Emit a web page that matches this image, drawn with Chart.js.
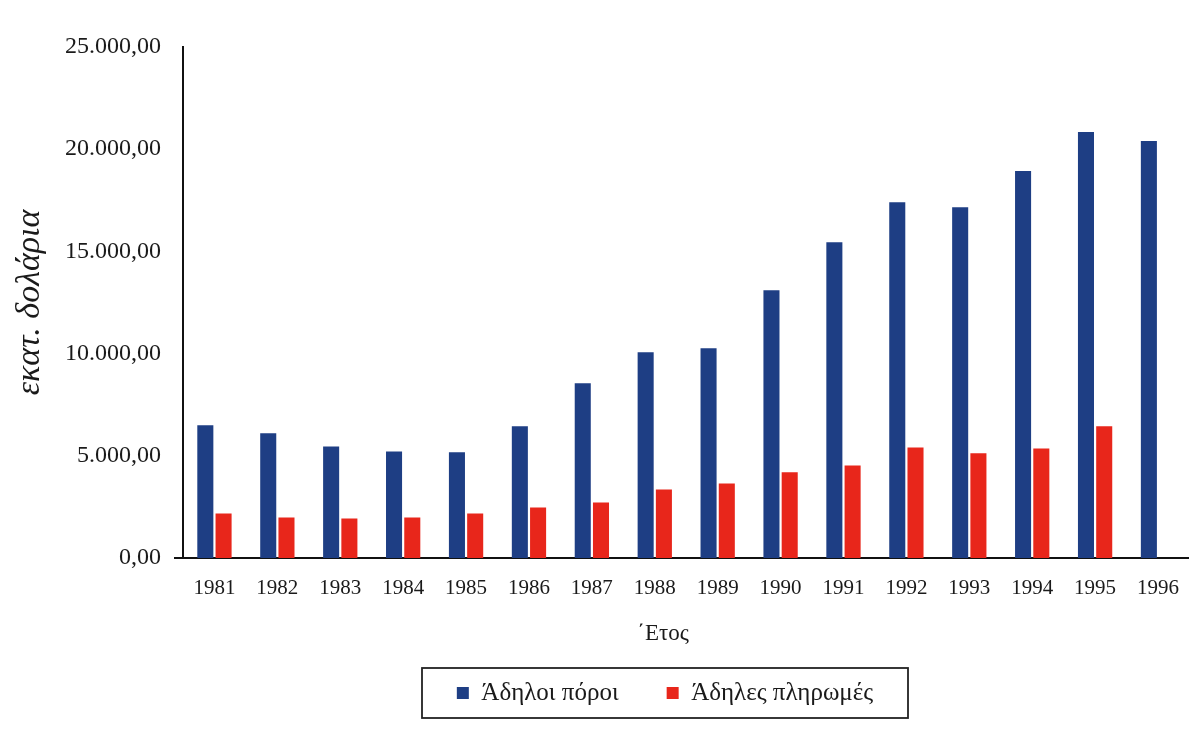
<!DOCTYPE html>
<html><head><meta charset="utf-8">
<script src="https://cdn.jsdelivr.net/npm/chart.js@4.4.1/dist/chart.umd.min.js"></script>
<style>html,body{margin:0;padding:0;background:#ffffff;overflow:hidden}#wrap{width:1197px;height:747px;position:relative}</style>
</head><body><div id="wrap"><canvas id="c"></canvas></div>
<script>
const years = ['1981','1982','1983','1984','1985','1986','1987','1988','1989','1990','1991','1992','1993','1994','1995','1996'];
const adiloiPoroi = [6490,6100,5460,5215,5170,6440,8545,10065,10260,13100,15450,17410,17165,18930,20840,20400];
const adilesPliromes = [2180,1985,1935,1985,2180,2475,2720,3355,3650,4190,4530,5410,5120,5360,6440,null];
const yTicks = [0,5000,10000,15000,20000,25000];
const seriesNames = ['Άδηλοι πόροι','Άδηλες πληρωμές'];
const yTitle = 'εκατ. δολάρια';
const xTitle = '΄Ετος';

function fmt(v){
  return Math.round(v).toString().replace(/\B(?=(\d{3})+(?!\d))/g,'.') + ',00';
}
const FONT = "'Liberation Serif', 'DejaVu Serif', serif";
Chart.defaults.font.family = FONT;
Chart.defaults.color = '#1a1a1a';

const LEG_FONT = 25, LEG_PAD = 48;

const legendBoxPlugin = {
  id: 'legendBox',
  afterLayout(chart){
    const lg = chart.legend;
    if (!lg) return;
    const dx = 665 - (lg.left + lg.right)/2;
    lg.left += dx; lg.right += dx;
    const dy = 693 - (lg.top + LEG_PAD + LEG_FONT/2);
    lg.top += dy; lg.bottom += dy;
    const s = chart.scales.x;
    if (!s._patched){
      const orig = s.drawTitle.bind(s);
      s.drawTitle = function(){
        const l = this.left, r = this.right;
        const d = 663 - (l + r)/2;
        this.left = l + d; this.right = r + d;
        orig();
        this.left = l; this.right = r;
      };
      s._patched = true;
    }
  },
  afterDraw(chart){
    const lg = chart.legend;
    const ctx = chart.ctx;
    const cx = (lg.left + lg.right)/2;
    ctx.save();
    ctx.strokeStyle = '#222';
    ctx.lineWidth = 1.8;
    ctx.strokeRect(cx - 243, 668, 486, 50);
    ctx.beginPath();
    ctx.moveTo(174, chart.chartArea.bottom);
    ctx.lineTo(183, chart.chartArea.bottom);
    ctx.lineWidth = 2;
    ctx.strokeStyle = '#111';
    ctx.stroke();
    ctx.restore();
  }
};

new Chart(document.getElementById('c'), {
  type: 'bar',
  data: {
    labels: years,
    datasets: [
      {label: seriesNames[0], data: adiloiPoroi, backgroundColor: '#1e3e84', barPercentage: 0.88, categoryPercentage: 0.58},
      {label: seriesNames[1], data: adilesPliromes, backgroundColor: '#e8261b', barPercentage: 0.88, categoryPercentage: 0.58}
    ]
  },
  options: {
    responsive: true,
    maintainAspectRatio: false,
    animation: false,
    layout: {padding: {top: 47, left: 6, right: 0, bottom: 21}},
    plugins: {
      tooltip: {enabled: false},
      legend: {
        position: 'bottom',
        labels: {boxWidth: 12, boxHeight: 12, padding: LEG_PAD, font: {size: LEG_FONT}, color: '#1a1a1a'}
      }
    },
    scales: {
      x: {
        grid: {display: false, drawTicks: false},
        border: {display: true, color: '#111', width: 2},
        ticks: {padding: 18, font: {size: 21}, color: '#1a1a1a', maxRotation: 0, autoSkip: false},
        title: {display: true, text: xTitle, font: {size: 23}, color: '#1a1a1a', padding: {top: 4, bottom: -5}},
        afterFit(s){ s.height = 85; }
      },
      y: {
        min: 0, max: 25000,
        afterBuildTicks(s){ s.ticks = yTicks.map(v => ({value: v})); },
        grid: {display: false, drawTicks: false},
        border: {display: true, color: '#111', width: 2},
        ticks: {padding: 22, font: {size: 24}, color: '#1a1a1a', callback: v => fmt(v)},
        title: {display: true, text: yTitle, font: {size: 34, style: 'italic'}, color: '#1a1a1a', padding: {top: 4, bottom: 4}},
        afterFit(s){ s.width = 177; }
      }
    }
  },
  plugins: [legendBoxPlugin]
});
</script>
</body></html>
